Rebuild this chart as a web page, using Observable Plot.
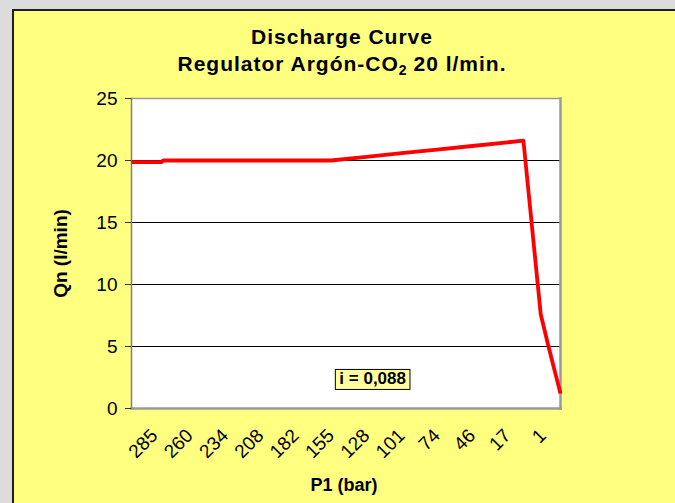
<!DOCTYPE html>
<html>
<head>
<meta charset="utf-8">
<script src="https://cdn.jsdelivr.net/npm/d3@7"></script>
<script src="https://cdn.jsdelivr.net/npm/@observablehq/plot@0.6"></script>
<style>
  html, body { margin: 0; padding: 0; }
  body { width: 675px; height: 503px; background: #dcdcdc; position: relative; overflow: hidden;
         font-family: "Liberation Sans", Arial, sans-serif; }
  #panel { position: absolute; left: 12px; top: 9px; width: 700px; height: 520px;
           background: #ffff80; border-left: 2px solid #1e1e1e; border-top: 2px solid #1e1e1e; }
  #title { position: absolute; left: 0; width: 684px; top: 23px; text-align: center;
           font-weight: bold; font-size: 21px; line-height: 27px; letter-spacing: 1px; color: #000; }
  #title sub { font-size: 14px; line-height: 0; vertical-align: -4px; letter-spacing: 0; }
  #chart { position: absolute; left: 0; top: 88px; }
</style>
</head>
<body>
<div id="panel"></div>
<div id="title">Discharge Curve<br>Regulator Argón-CO<sub>2</sub> 20 l/min.</div>
<div id="chart"></div>
<script>
// Category labels of the x axis (P1 in bar), shown left to right
const pressureLabels = ["285","260","234","208","182","155","128","101","74","46","17","1"];
// Curve: position along the category axis (label index) and flow Qn (l/min)
const curvePos  = [-0.65, 0.2, 0.25, 5.0, 6.0, 7.0, 8.0, 9.0, 10.0, 10.45, 10.94, 11.16, 11.5];
const curveFlow = [19.87, 19.87, 20.0, 20.0, 20.29, 20.59, 20.88, 21.17, 21.47, 21.6, 7.6, 5.0, 1.2];
// Y axis ticks and gridlines
const yTicks = [0, 5, 10, 15, 20, 25];
const gridValues = [5, 10, 15, 20];
// Annotation
const noteText = ["i = 0,088"];
const notePos = [6.18];
const noteFlow = [2.42];

const curve = curvePos.map((p, i) => ({p, q: curveFlow[i]}));
const note = noteText.map((t, i) => ({t, p: notePos[i], q: noteFlow[i]}));

const font = "'Liberation Sans', Arial, sans-serif";

const chart = Plot.plot({
  width: 675,
  height: 415,
  marginLeft: 131,
  marginRight: 115,
  marginTop: 10,
  marginBottom: 95,
  style: {background: "transparent", fontFamily: font, color: "#000", overflow: "visible"},
  x: {domain: [-0.65, 11.5], axis: null},
  y: {domain: [0, 25], axis: null},
  marks: [
    Plot.frame({fill: "white", stroke: null}),
    Plot.ruleY(gridValues, {stroke: "#000", strokeWidth: 1}),
    Plot.frame({anchor: "top", stroke: "#9a9a9a", strokeWidth: 1.5}),
    Plot.frame({anchor: "right", stroke: "#9a9a9a", strokeWidth: 2.5}),
    Plot.frame({anchor: "bottom", stroke: "#9a9a9a", strokeWidth: 2.5}),
    Plot.frame({anchor: "left", stroke: "#808080", strokeWidth: 1.5}),
    Plot.axisY({ticks: yTicks, tickSize: 6, tickPadding: 8, fontSize: 19, label: null, stroke: "#333"}),
    Plot.axisX({ticks: d3.range(pressureLabels.length), tickFormat: i => pressureLabels[i],
      tickSize: 0, tickPadding: 24, tickRotate: -45, fontSize: 19, label: null}),
    Plot.line(curve, {x: "p", y: "q", stroke: "#ff0000", strokeWidth: 3.8,
      strokeLinejoin: "round", strokeLinecap: "butt"}),
    Plot.text(note, {x: "p", y: "q", text: "t", fontSize: 17, fontWeight: "bold",
      fill: "#000", ariaLabel: "annotation"}),
    Plot.text(["Qn (l/min)"], {frameAnchor: "left", dx: -71, rotate: -90, textAnchor: "middle",
      fontSize: 19, fontWeight: "bold", fill: "#000"}),
    Plot.text(["P1 (bar)"], {frameAnchor: "bottom", dy: 82, dx: -2, textAnchor: "middle",
      fontSize: 18, fontWeight: "bold", fill: "#000"})
  ]
});
document.getElementById("chart").appendChild(chart);

// Box behind annotation text
chart.querySelectorAll("text").forEach(t => {
  if (t.textContent !== noteText[0]) return;
  const b = t.getBBox();
  const r = document.createElementNS("http://www.w3.org/2000/svg", "rect");
  r.setAttribute("x", b.x - 4);
  r.setAttribute("y", b.y + 0.5);
  r.setAttribute("width", b.width + 8);
  r.setAttribute("height", b.height + 1);
  r.setAttribute("fill", "#ffffa0");
  r.setAttribute("stroke", "#000");
  r.setAttribute("stroke-width", "1");
  const tr = t.getAttribute("transform");
  if (tr) r.setAttribute("transform", tr);
  t.parentNode.insertBefore(r, t);
});
</script>
</body>
</html>
